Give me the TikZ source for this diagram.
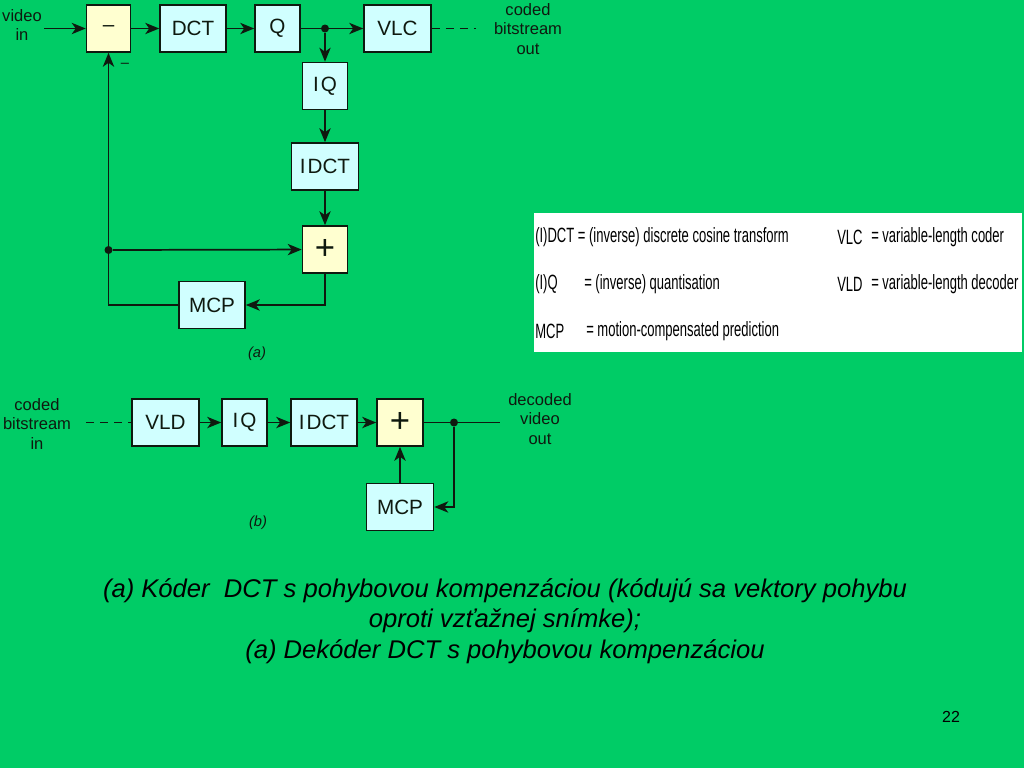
\documentclass[tikz,border=0pt]{standalone}
\usepackage{fontspec}
\setmainfont{Liberation Sans}
\usetikzlibrary{arrows.meta}
\definecolor{bg}{RGB}{0,204,102}
\definecolor{cyanbox}{RGB}{208,255,255}
\definecolor{yelbox}{RGB}{255,255,208}
\definecolor{ink}{RGB}{15,25,15}
\begin{document}
\begin{tikzpicture}[x=0.75pt,y=-0.75pt,
  blk/.style={draw=ink, line width=1.2pt, fill=cyanbox, inner sep=0pt, minimum height=35.25pt, font=\fontsize{15.5}{18}\selectfont, text=ink},
  sumblk/.style={blk, fill=yelbox},
  lbl/.style={align=center, font=\fontsize{12.4}{14.4}\selectfont, inner sep=0pt, text=ink},
  conn/.style={draw=ink, line width=1.3pt},
  arr/.style={conn, -{Stealth[length=10.5pt,width=8.5pt,inset=3pt]}},
  dsh/.style={conn, dash pattern=on 6pt off 4.5pt},
  jdot/.style={circle, fill=ink, inner sep=0pt, minimum size=6pt},
  leg/.style={anchor=west, inner sep=0pt, font=\fontsize{15.5}{17}\selectfont},
]
\fill[bg] (0,0) rectangle (1024,768);
\useasboundingbox (0,0) rectangle (1024,768);

% ---------- (a) encoder ----------
\node[lbl] (vin) at (22,25) {video\\in};
\coordinate (vinend) at (44,28.5);
\node[sumblk, minimum width=33pt] (minus) at (108.5,28.5) {–};
\node[blk, minimum width=49.5pt] (dct) at (193,28.5) {DCT};
\node[blk, minimum width=33.75pt] (q) at (277.5,28.5) {Q};
\node[jdot] (j1) at (325,28.5) {};
\node[blk, minimum width=50.25pt] (vlc) at (397.5,28.5) {VLC};
\coordinate (vlcend) at (476,28.5);
\node[lbl] (cbout) at (528,29) {coded\\bitstream\\out};
\node[blk, minimum width=33.75pt] (iq) at (325,86) {I\kern1.5pt Q};
\node[blk, minimum width=50.25pt] (idct) at (325,166.5) {I\kern1.5pt DCT};
\node[sumblk, minimum width=33.75pt, font=\fontsize{26}{26}\selectfont] (plus) at (325,249.5) {+};
\node[jdot] (j2) at (108.5,250) {};
\node[blk, minimum width=49.5pt] (mcp) at (212,305) {MCP};
\node[lbl, font=\fontsize{11}{12}\selectfont] (minuslbl) at (125,65) {–};
\node[lbl, font=\itshape\fontsize{11}{12}\selectfont] (la) at (257,354) {(a)};

\draw[arr] (vinend) -- (minus);
\draw[arr] (minus) -- (dct);
\draw[arr] (dct) -- (q);
\draw[conn] (q) -- (j1);
\draw[arr] (j1) -- (vlc);
\draw[arr] (j1) -- (iq);
\draw[dsh] (vlc) -- (vlcend);
\draw[arr] (iq) -- (idct);
\draw[arr] (idct) -- (plus);
\draw[arr] (j2) -- (plus);
\draw[arr] (plus.south) |- (mcp.east);
\draw[arr] (mcp.west) -| (minus.south);

% ---------- (b) decoder ----------
\node[lbl] (cbin) at (37,424) {coded\\bitstream\\in};
\coordinate (cbinend) at (86,422.5);
\node[blk, minimum width=50.25pt] (vld) at (165.5,422.5) {VLD};
\node[blk, minimum width=33.75pt] (iqb) at (244.5,422.5) {I\kern1.5pt Q};
\node[blk, minimum width=49.5pt] (idctb) at (324,422.5) {I\kern1.5pt DCT};
\node[sumblk, minimum width=34.5pt, font=\fontsize{26}{26}\selectfont] (plusb) at (400,422.5) {+};
\node[jdot] (j3) at (454,422.5) {};
\coordinate (outend) at (500,422.5);
\node[lbl] (dvout) at (540,419) {decoded\\video\\out};
\node[blk, minimum width=50.25pt] (mcpb) at (400,507) {MCP};
\node[lbl, font=\itshape\fontsize{11}{12}\selectfont] (lb) at (258,523) {(b)};

\draw[dsh] (cbinend) -- (vld);
\draw[arr] (vld) -- (iqb);
\draw[arr] (iqb) -- (idctb);
\draw[arr] (idctb) -- (plusb);
\draw[conn] (plusb) -- (j3) -- (outend);
\draw[arr] (j3) |- (mcpb.east);
\draw[arr] (mcpb) -- (plusb);

% ---------- legend ----------
\node[fill=white, minimum width=366pt, minimum height=104.25pt, inner sep=0pt] (legend) at (778,282.5) {};
\node[leg] (l1) at (535,237) {\scalebox{0.63}[1]{(I)DCT = (inverse) discrete cosine transform}};
\node[leg] (l2a) at (535,284) {\scalebox{0.63}[1]{(I)Q}};
\node[leg] (l2b) at (584,284) {\scalebox{0.63}[1]{= (inverse) quantisation}};
\node[leg] (l3a) at (535,331) {\scalebox{0.63}[1]{MCP}};
\node[leg] (l3b) at (586,331) {\scalebox{0.63}[1]{= motion-compensated prediction}};
\node[leg] (r1a) at (837,237) {\scalebox{0.63}[1]{VLC}};
\node[leg] (r1b) at (871,237) {\scalebox{0.63}[1]{= variable-length coder}};
\node[leg] (r2a) at (837,284) {\scalebox{0.63}[1]{VLD}};
\node[leg] (r2b) at (871,284) {\scalebox{0.63}[1]{= variable-length decoder}};

% ---------- caption ----------
\node[align=center, inner sep=0pt, font=\itshape\fontsize{19.2}{23}\selectfont] (cap) at (505,621)
  {(a) Kóder\ \ DCT s pohybovou kompenzáciou (kódujú sa vektory pohybu\\oproti vzťažnej snímke);\\(a) Dekóder DCT s pohybovou kompenzáciou};
\node[inner sep=0pt, font=\fontsize{12}{14}\selectfont] (pg) at (951,717) {22};
\end{tikzpicture}
\end{document}
